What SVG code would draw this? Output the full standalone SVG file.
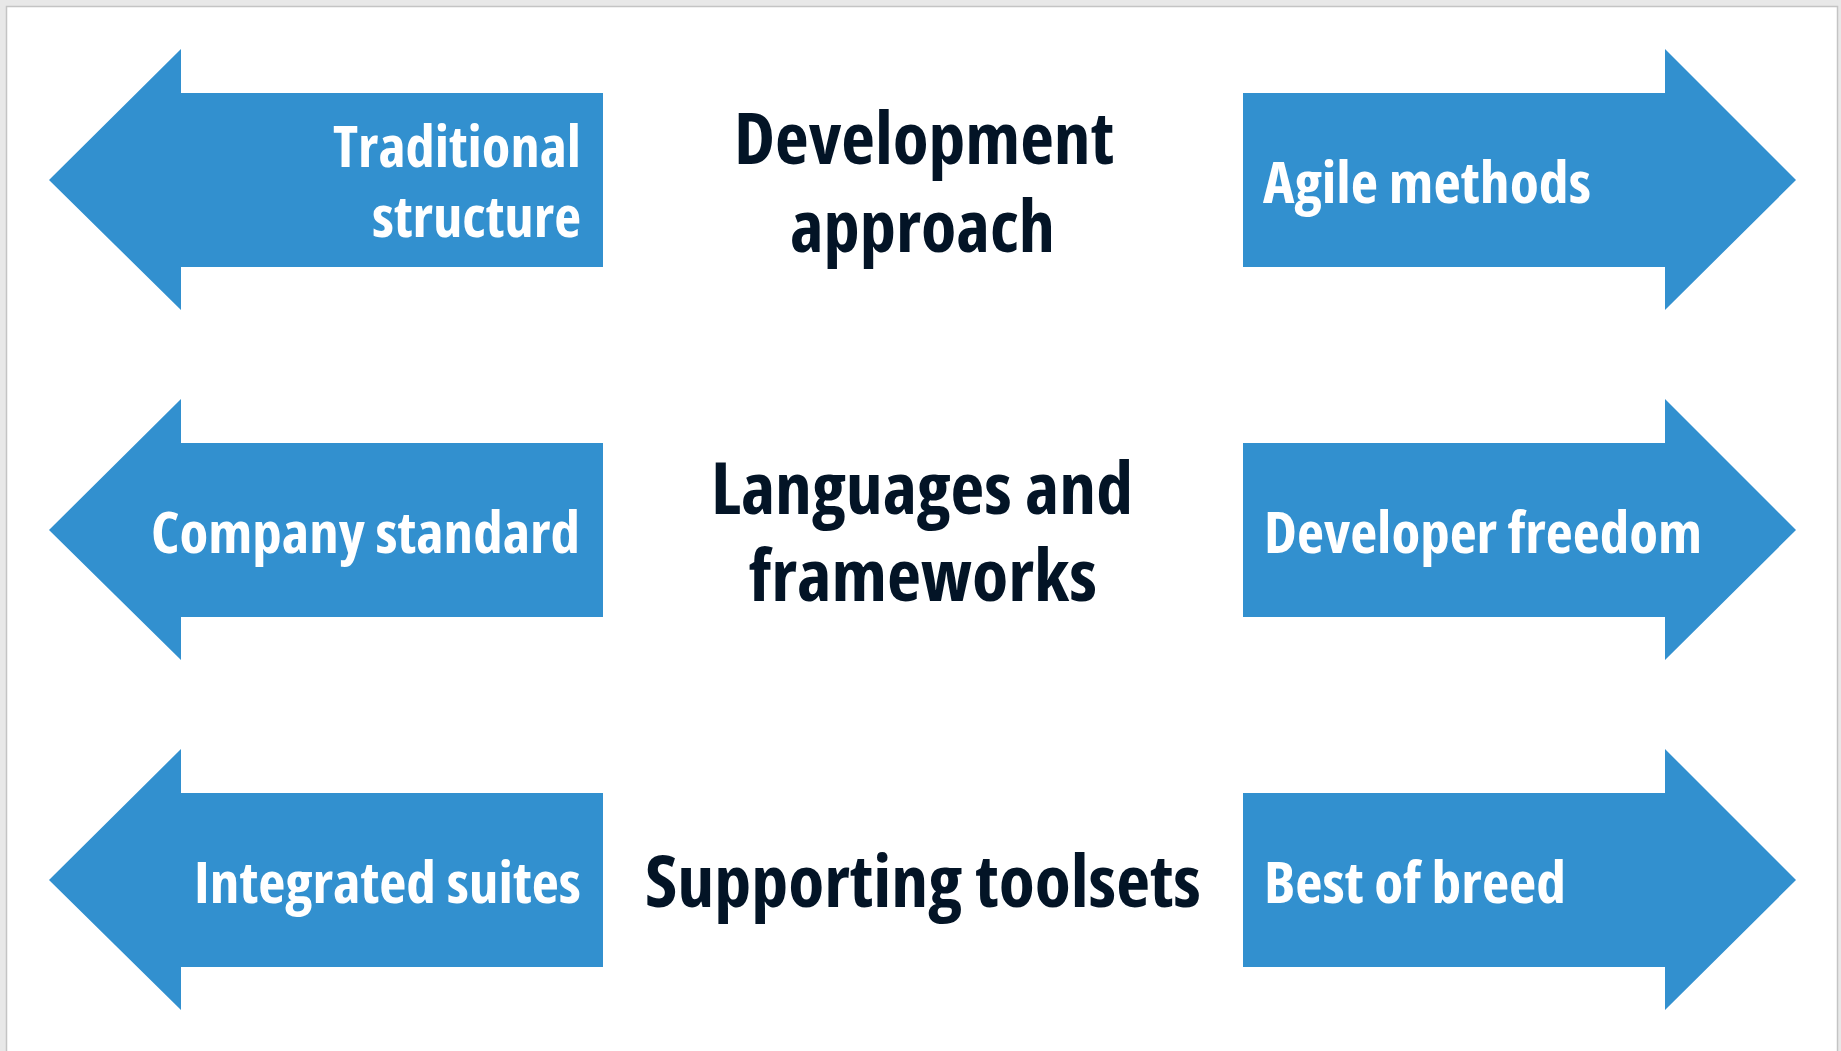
<svg xmlns="http://www.w3.org/2000/svg" width="1841" height="1051" viewBox="0 0 1841 1051">
<style>
.arrow{fill:#3290cf}
.lbl{font-family:"Open Sans","Liberation Sans",sans-serif;font-weight:700;font-stretch:condensed;fill:#ffffff;font-size:57px}
.ttl{font-family:"Open Sans","Liberation Sans",sans-serif;font-weight:700;font-stretch:condensed;fill:#031426;font-size:72px}
</style>
<rect x="0" y="0" width="1841" height="1051" fill="#e8e8e8"/>
<rect x="6.5" y="6.5" width="1831" height="1050" fill="#ffffff" stroke="#c4c4c4" stroke-width="1.5"/>
<g id="connectors"></g>
<g id="row1">
  <g id="traditional-structure">
    <polygon class="arrow" points="49,180 181,49 181,93 603,93 603,267 181,267 181,310"/>
    <text class="lbl" x="333" y="167" textLength="248" lengthAdjust="spacingAndGlyphs">Traditional</text>
    <text class="lbl" x="372" y="237" textLength="209" lengthAdjust="spacingAndGlyphs">structure</text>
  </g>
  <g id="development-approach">
    <text class="ttl" x="734" y="163.5" textLength="380" lengthAdjust="spacingAndGlyphs">Development</text>
    <text class="ttl" x="790" y="251.5" textLength="265" lengthAdjust="spacingAndGlyphs">approach</text>
  </g>
  <g id="agile-methods">
    <polygon class="arrow" points="1243,93 1665,93 1665,49 1796,180 1665,310 1665,267 1243,267"/>
    <text class="lbl" x="1263" y="202.5" textLength="328" lengthAdjust="spacingAndGlyphs">Agile methods</text>
  </g>
</g>
<g id="row2">
  <g id="company-standard">
    <polygon class="arrow" points="49,530 181,399 181,443 603,443 603,617 181,617 181,660"/>
    <text class="lbl" x="151" y="552.5" textLength="429" lengthAdjust="spacingAndGlyphs">Company standard</text>
  </g>
  <g id="languages-frameworks">
    <text class="ttl" x="711" y="513.5" textLength="422" lengthAdjust="spacingAndGlyphs">Languages and</text>
    <text class="ttl" x="749" y="600.5" textLength="348" lengthAdjust="spacingAndGlyphs">frameworks</text>
  </g>
  <g id="developer-freedom">
    <polygon class="arrow" points="1243,443 1665,443 1665,399 1796,530 1665,660 1665,617 1243,617"/>
    <text class="lbl" x="1264" y="552.5" textLength="438" lengthAdjust="spacingAndGlyphs">Developer freedom</text>
  </g>
</g>
<g id="row3">
  <g id="integrated-suites">
    <polygon class="arrow" points="49,880 181,749 181,793 603,793 603,967 181,967 181,1010"/>
    <text class="lbl" x="194" y="902.5" textLength="387" lengthAdjust="spacingAndGlyphs">Integrated suites</text>
  </g>
  <g id="supporting-toolsets">
    <text class="ttl" x="645" y="907" textLength="556" lengthAdjust="spacingAndGlyphs">Supporting toolsets</text>
  </g>
  <g id="best-of-breed">
    <polygon class="arrow" points="1243,793 1665,793 1665,749 1796,880 1665,1010 1665,967 1243,967"/>
    <text class="lbl" x="1264" y="902.5" textLength="302" lengthAdjust="spacingAndGlyphs">Best of breed</text>
  </g>
</g>
</svg>
